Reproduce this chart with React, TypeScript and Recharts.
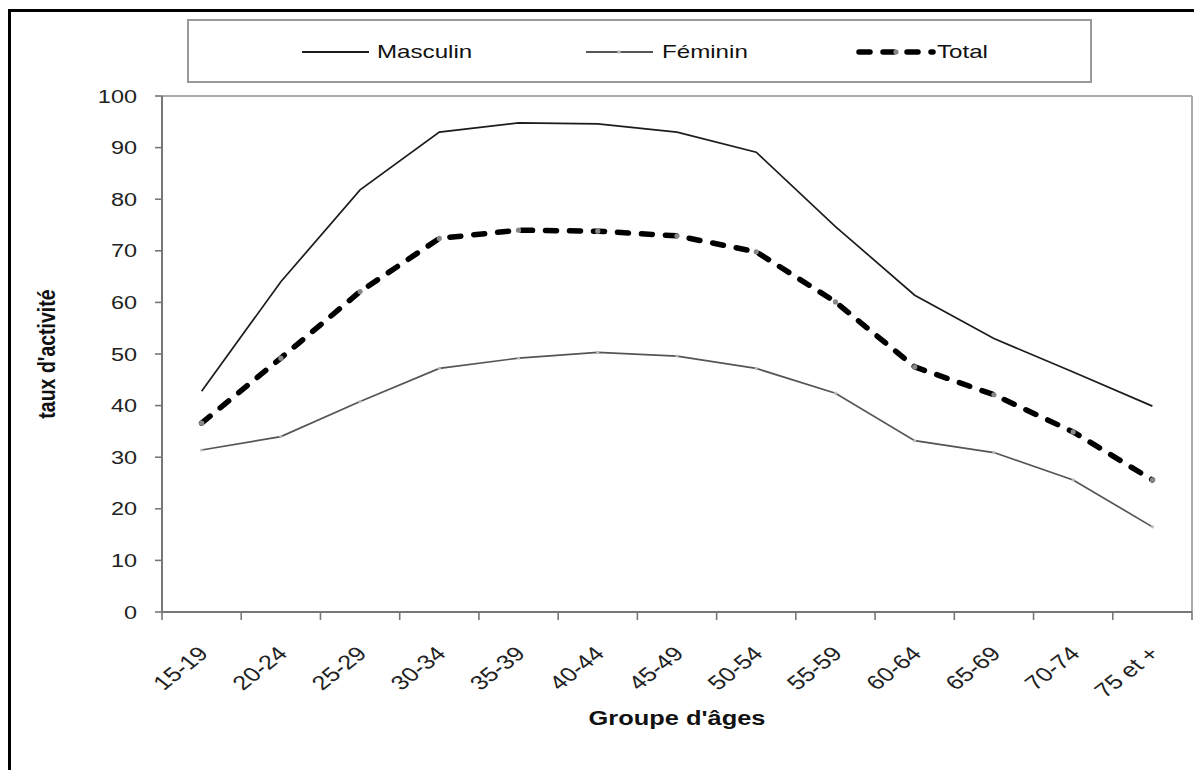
import React from 'react';
import { LineChart, Line, XAxis, YAxis, ReferenceLine } from 'recharts';

const categories = ['15-19', '20-24', '25-29', '30-34', '35-39', '40-44', '45-49', '50-54', '55-59', '60-64', '65-69', '70-74', '75 et +'];
const masculin = [42.8, 64.0, 81.8, 93.0, 94.8, 94.6, 93.0, 89.1, 74.7, 61.4, 53.0, 46.5, 39.9];
const feminin = [31.4, 34.0, 40.8, 47.2, 49.2, 50.3, 49.6, 47.2, 42.4, 33.2, 30.9, 25.6, 16.5];
const total = [36.6, 49.2, 62.1, 72.4, 74.0, 73.8, 72.9, 69.8, 60.1, 47.5, 42.1, 34.9, 25.6];
const yTicks = [0, 10, 20, 30, 40, 50, 60, 70, 80, 90, 100];

const data = categories.map((age, i) => ({
  pos: i + 0.5,
  age,
  m: masculin[i],
  f: feminin[i],
  t: total[i],
}));

// ticks: integer values are category boundaries (tick marks), half values are category centres (labels)
const xTicks: number[] = [];
for (let i = 0; i <= categories.length; i++) {
  xTicks.push(i);
  if (i < categories.length) xTicks.push(i + 0.5);
}

const FONT = '"Liberation Sans", Arial, sans-serif';
const SX = 1.27;

const XTick = (props: any) => {
  const { x, y, payload } = props;
  const v = payload.value;
  if (Number.isInteger(v)) {
    return <line x1={x} x2={x} y1={y - 8} y2={y} stroke="#777" strokeWidth={1.6} />;
  }
  const label = categories[Math.floor(v)];
  return (
    <g transform={`translate(${x + 8},${y + 35})`}>
      <text transform={`scale(${SX},1) rotate(-45)`} textAnchor="end" fontSize={20} fill="#222" fontFamily={FONT}>
        {label}
      </text>
    </g>
  );
};

const YTick = (props: any) => {
  const { x, y, payload } = props;
  return (
    <g transform={`translate(${x},${y})`}>
      <text transform={`scale(${SX},1)`} textAnchor="end" dy="0.36em" fontSize={18.5} fill="#222" fontFamily={FONT}>
        {payload.value}
      </text>
    </g>
  );
};

const legendText: React.CSSProperties = {
  position: 'absolute',
  fontFamily: FONT,
  fontSize: 19,
  color: '#111',
  transform: `translateY(-50%) scaleX(${SX})`,
  transformOrigin: 'left center',
  whiteSpace: 'nowrap',
  lineHeight: '22px',
};

export default function App() {
  return (
    <div style={{ position: 'relative', width: 1194, height: 762, background: '#fff', overflow: 'hidden' }}>
      <div
        style={{
          position: 'absolute',
          left: 0,
          top: 1,
          width: 1400,
          height: 1000,
          boxSizing: 'border-box',
          borderTop: '3px solid #000',
          borderLeft: '3px solid #000',
        }}
      />
      <div style={{ position: 'absolute', left: 0, top: 0 }}>
        <LineChart width={1194} height={762} data={data} margin={{ top: 88, right: 10, left: 0, bottom: 38 }}>
          <XAxis
            dataKey="pos"
            type="number"
            domain={[0, categories.length]}
            ticks={xTicks}
            interval={0}
            tick={<XTick />}
            tickLine={false}
            tickSize={8}
            tickMargin={0}
            height={120}
            axisLine={{ stroke: '#777', strokeWidth: 2 }}
          />
          <YAxis
            type="number"
            domain={[0, 100]}
            ticks={yTicks}
            interval={0}
            width={154}
            tick={<YTick />}
            tickSize={7}
            tickMargin={18}
            tickLine={{ stroke: '#777', strokeWidth: 1.6 }}
            axisLine={{ stroke: '#777', strokeWidth: 2 }}
          />
          <ReferenceLine y={100} stroke="#aaa" strokeWidth={2} />
          <ReferenceLine x={categories.length} stroke="#aaa" strokeWidth={2} />
          <Line
            type="linear"
            dataKey="m"
            stroke="#1c1c1c"
            strokeWidth={1.7}
            dot={false}
            isAnimationActive={false}
          />
          <Line
            type="linear"
            dataKey="f"
            stroke="#555"
            strokeWidth={1.7}
            dot={{ r: 1.6, fill: '#bbb', stroke: 'none' }}
            isAnimationActive={false}
          />
          <Line
            type="linear"
            dataKey="t"
            stroke="#000"
            strokeWidth={5.5}
            strokeDasharray="11 13"
            strokeLinecap="round"
            dot={{ r: 2.6, fill: '#888', stroke: 'none', strokeDasharray: 'none' }}
            isAnimationActive={false}
          />
        </LineChart>
      </div>

      {/* Legend */}
      <div
        style={{
          position: 'absolute',
          left: 179,
          top: 11,
          width: 905,
          height: 64,
          boxSizing: 'border-box',
          border: '2px solid #999',
          background: '#fff',
        }}
      >
        <svg width={905} height={64} style={{ position: 'absolute', left: -2, top: -2 }}>
          <line x1={115} x2={182} y1={33} y2={33} stroke="#1c1c1c" strokeWidth={1.8} />
          <line x1={399} x2={466} y1={33} y2={33} stroke="#555" strokeWidth={1.8} />
          <circle cx={432} cy={33} r={1.8} fill="#bbb" />
          <line x1={672} x2={746} y1={33} y2={33} stroke="#000" strokeWidth={5.5} strokeDasharray="11 13" strokeLinecap="round" />
          <circle cx={709} cy={33} r={2.6} fill="#888" />
        </svg>
        <div style={{ ...legendText, left: 188, top: 31 }}>Masculin</div>
        <div style={{ ...legendText, left: 473, top: 31 }}>Féminin</div>
        <div style={{ ...legendText, left: 748, top: 31 }}>Total</div>
      </div>

      {/* Axis titles */}
      <div
        style={{
          position: 'absolute',
          left: 39,
          top: 346,
          fontFamily: FONT,
          fontWeight: 'bold',
          fontSize: 19.5,
          color: '#111',
          whiteSpace: 'nowrap',
          transform: `translate(-50%, -50%) scaleX(${SX}) rotate(-90deg)`,
        }}
      >
        taux d'activité
      </div>
      <div
        style={{
          position: 'absolute',
          left: 669,
          top: 710,
          fontFamily: FONT,
          fontWeight: 'bold',
          fontSize: 20,
          color: '#111',
          whiteSpace: 'nowrap',
          transform: `translate(-50%, -50%) scaleX(${SX})`,
        }}
      >
        Groupe d'âges
      </div>
    </div>
  );
}
